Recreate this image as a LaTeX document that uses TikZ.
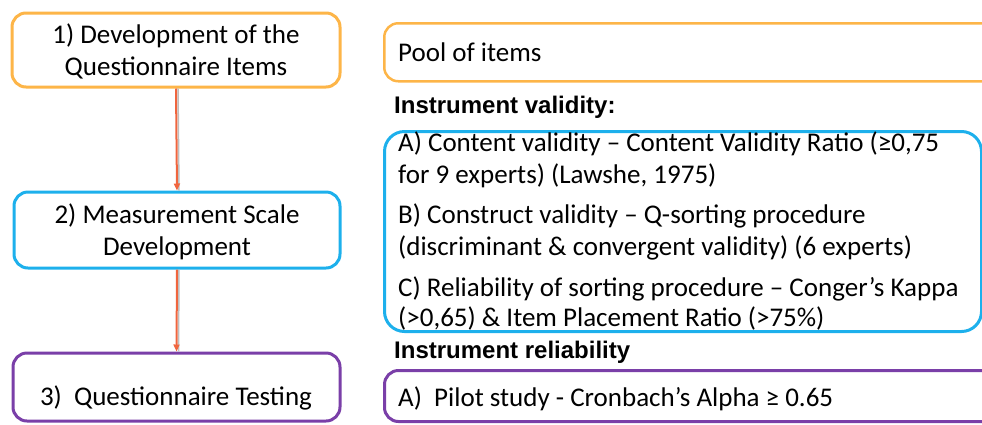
\documentclass[tikz,border=0pt]{standalone}
\usepackage{fontspec}
\setmainfont{Carlito}
\newfontfamily\headfont{Liberation Sans}
\usetikzlibrary{arrows.meta}
\definecolor{corange}{HTML}{FDB548}
\definecolor{cblue}{HTML}{1DB0EC}
\definecolor{cpurple}{HTML}{7A3FA8}
\definecolor{carrow}{HTML}{F0653E}
\begin{document}
\begin{tikzpicture}[x=1pt,y=-1pt,
  box/.style={draw, line width=3pt, rounded corners=14pt, inner sep=0pt, fill=white},
  txt/.style={font=\fontsize{27}{32}\selectfont, inner sep=0pt, anchor=base west},
  ctxt/.style={font=\fontsize{27}{32}\selectfont, inner sep=0pt, align=center},
  head/.style={font=\headfont\bfseries\fontsize{24}{28}\selectfont, inner sep=0pt, anchor=base west},
  conn/.style={carrow, line width=2pt, -{Triangle[length=7pt,width=6pt]}},
  shade/.style={black!25, line width=1.5pt, transform canvas={xshift=2pt}}]
\useasboundingbox (0,0) rectangle (982,424);
\clip (0,0) rectangle (982,424);
% left column
\node[box, draw=corange, minimum width=328pt, minimum height=74pt] (b1) at (176,50) {};
\node[box, draw=cblue, minimum width=326pt, minimum height=76pt] (b2) at (177,230) {};
\node[box, draw=cpurple, minimum width=327pt, minimum height=68pt] (b3) at (176.5,387) {};
\node[ctxt] (t1) at (176,51) {1) Development of the\\Questionnaire Items};
\node[ctxt] (t2) at (177,232) {2) Measurement Scale\\Development};
\node[txt, anchor=base] (t3) at (176,405) {3)~ Questionnaire Testing};
\draw[shade] (b1.south) -- (b2.north);
\draw[shade] (b2.south) -- (b3.north);
\draw[conn] (b1.south) -- (b2.north);
\draw[conn] (b2.south) -- (b3.north);
% right column
\node[box, draw=corange, line width=2.5pt, minimum width=640pt, minimum height=58pt, anchor=north west] (pool) at (383,22) {};
\node[txt] (tp) at (398,61) {Pool of items};
\node[head] (hv) at (394,113) {Instrument validity:};
\node[box, draw=cblue, rounded corners=20pt, minimum width=597pt, minimum height=200pt, anchor=north west] (val) at (383,130) {};
\node[txt] (va1) at (398,151) {A) Content validity – Content Validity Ratio (≥0,75};
\node[txt] (va2) at (398,183) {for 9 experts) (Lawshe, 1975)};
\node[txt] (vb1) at (398,223) {B) Construct validity – Q-sorting procedure};
\node[txt] (vb2) at (398,255) {(discriminant \& convergent validity) (6 experts)};
\node[txt] (vc1) at (398,296) {C) Reliability of sorting procedure – Conger’s Kappa};
\node[txt] (vc2) at (398,326) {(>0,65) \& Item Placement Ratio (>75\%)};
\node[head] (hr) at (394,358) {Instrument reliability};
\node[box, draw=cpurple, minimum width=640pt, minimum height=51pt, anchor=north west] (rel) at (383,369) {};
\node[txt] (tr) at (398,406) {A)~ Pilot study - Cronbach’s Alpha ≥ 0.65};
\end{tikzpicture}
\end{document}
